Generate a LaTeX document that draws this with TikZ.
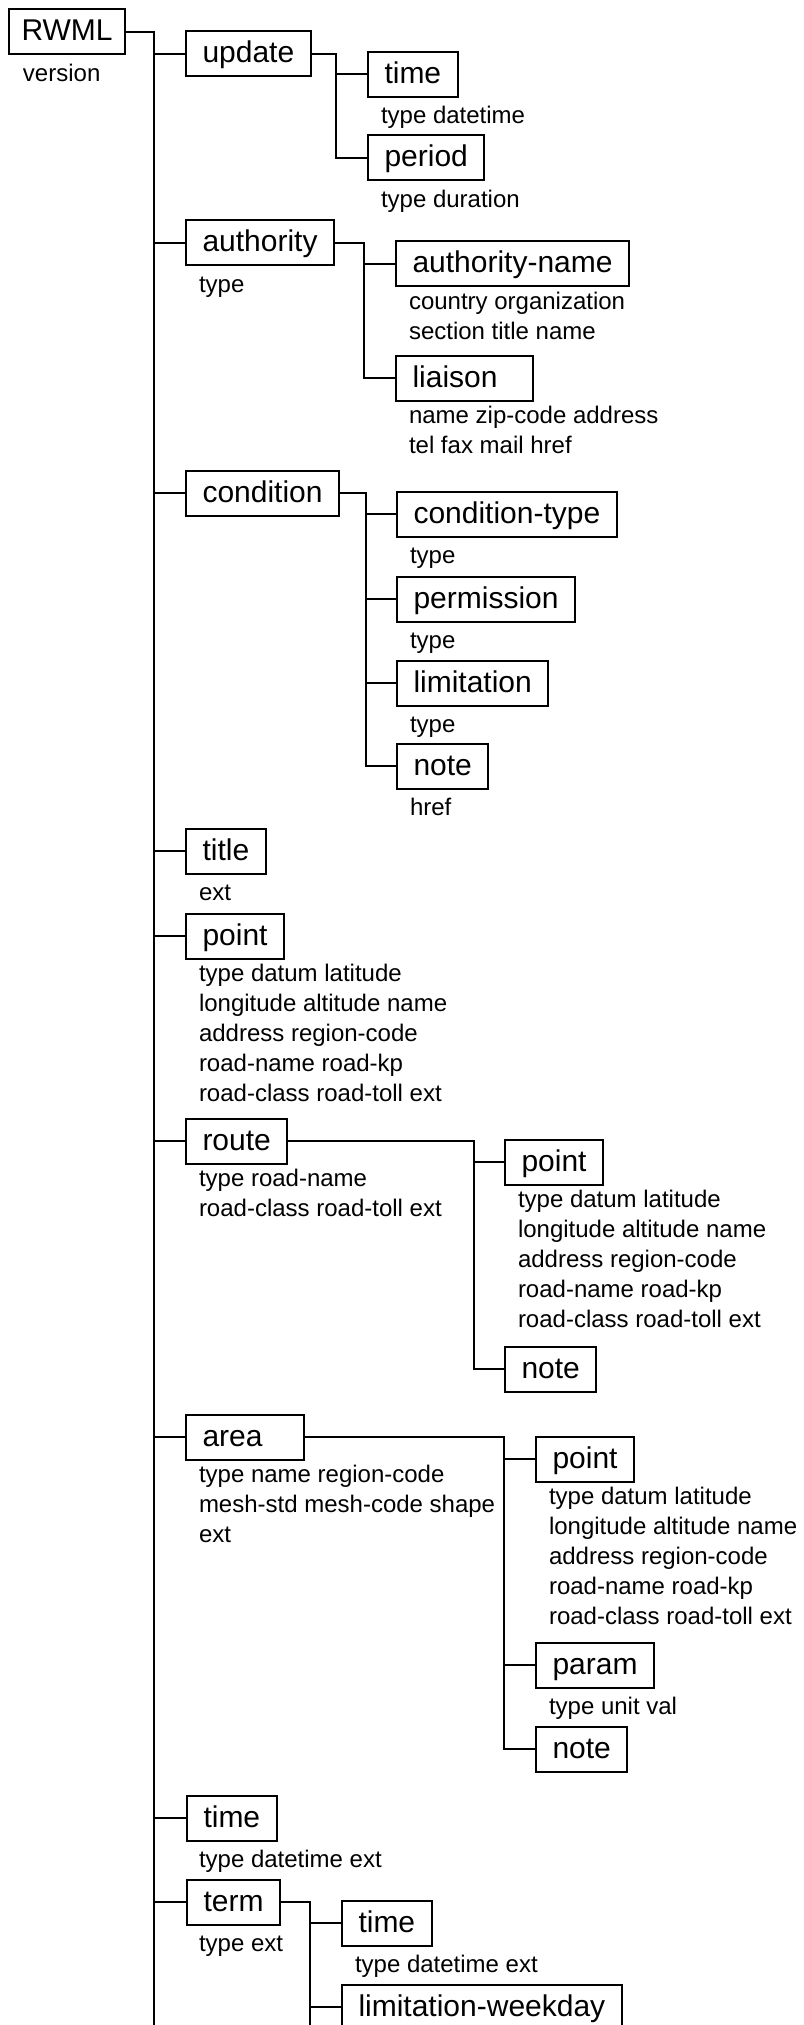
\documentclass[tikz,border=0pt]{standalone}
\usepackage{fontspec}
\setmainfont{Liberation Sans}
\usetikzlibrary{positioning, calc}

\begin{document}
\begin{tikzpicture}[
    x=1pt, y=-1pt,
    line width=2pt,
    elem/.style={draw, rectangle, anchor=west, minimum height=45pt, inner xsep=16.5pt, inner ysep=0pt, text height=23pt, text depth=5pt, font=\fontsize{30}{36}\selectfont},
    attr/.style={anchor=north west, align=left, inner sep=0pt, font=\fontsize{24}{30}\selectfont, execute at begin node=\strut}
]
    \useasboundingbox (0,0) rectangle (803,2025);
    \clip (0,0) rectangle (803,2025);
    \fill[white] (0,0) rectangle (803,2025);

    % --- ROOT ---
    \node[elem, inner xsep=12.5pt] (rwml) at (8,32) {RWML};
    \node[attr] (rwmlattr) at ([xshift=14pt,yshift=-4pt]rwml.south west) {version};
    \coordinate (trunkend) at (154,2040);
    \draw (rwml.east) -| (trunkend);

    % --- UPDATE ---
    \node[elem] (update) at (185,54) {update};
    \node[elem] (uptime) at (367,74.5) {time};
    \node[attr] (uptimeattr) at ([xshift=13pt,yshift=-4pt]uptime.south west) {type datetime};
    \node[elem] (period) at (367,158) {period};
    \node[attr] (periodattr) at ([xshift=13pt,yshift=-4pt]period.south west) {type duration};
    \draw (update.west) -- (update.west -| trunkend);
    \draw (update.east) -| ($(period.west)+(-31,0)$) -- (period.west);
    \draw (uptime.west) -- ++(-31,0);

    % --- AUTHORITY ---
    \node[elem] (authority) at (185,243) {authority};
    \node[attr] (authorityattr) at ([xshift=13pt,yshift=-4pt]authority.south west) {type};
    \node[elem] (authname) at (395,264) {authority-name};
    \node[attr] (authnameattr) at ([xshift=13pt,yshift=-4pt]authname.south west) {country organization\\section title name};
    \node[elem, text width=104pt, align=left] (liaison) at (395,378) {liaison};
    \node[attr] (liaisonattr) at ([xshift=13pt,yshift=-4pt]liaison.south west) {name zip-code address\\tel fax mail href};
    \draw (authority.west) -- (authority.west -| trunkend);
    \draw (authority.east) -| ($(liaison.west)+(-31,0)$) -- (liaison.west);
    \draw (authname.west) -- ++(-31,0);

    % --- CONDITION ---
    \node[elem] (condition) at (185,493) {condition};
    \node[elem] (condtype) at (396,514) {condition-type};
    \node[attr] (condtypeattr) at ([xshift=13pt,yshift=-4pt]condtype.south west) {type};
    \node[elem] (permission) at (396,599) {permission};
    \node[attr] (permissionattr) at ([xshift=13pt,yshift=-4pt]permission.south west) {type};
    \node[elem] (limitation) at (396,683) {limitation};
    \node[attr] (limitationattr) at ([xshift=13pt,yshift=-4pt]limitation.south west) {type};
    \node[elem] (condnote) at (396,766) {note};
    \node[attr] (condnoteattr) at ([xshift=13pt,yshift=-4pt]condnote.south west) {href};
    \draw (condition.west) -- (condition.west -| trunkend);
    \draw (condition.east) -| ($(condnote.west)+(-30,0)$) -- (condnote.west);
    \draw (condtype.west) -- ++(-30,0);
    \draw (permission.west) -- ++(-30,0);
    \draw (limitation.west) -- ++(-30,0);

    % --- TITLE, POINT ---
    \node[elem] (title) at (185,851) {title};
    \node[attr] (titleattr) at ([xshift=13pt,yshift=-4pt]title.south west) {ext};
    \node[elem] (point) at (185,936) {point};
    \node[attr] (pointattr) at ([xshift=13pt,yshift=-4pt]point.south west) {type datum latitude\\longitude altitude name\\address region-code\\road-name road-kp\\road-class road-toll ext};
    \draw (title.west) -- (title.west -| trunkend);
    \draw (point.west) -- (point.west -| trunkend);

    % --- ROUTE ---
    \node[elem] (route) at (185,1141) {route};
    \node[attr] (routeattr) at ([xshift=13pt,yshift=-4pt]route.south west) {type road-name\\road-class road-toll ext};
    \node[elem] (routepoint) at (504,1162) {point};
    \node[attr] (routepointattr) at ([xshift=13pt,yshift=-4pt]routepoint.south west) {type datum latitude\\longitude altitude name\\address region-code\\road-name road-kp\\road-class road-toll ext};
    \node[elem] (routenote) at (504,1369) {note};
    \draw (route.west) -- (route.west -| trunkend);
    \draw (route.east) -| ($(routenote.west)+(-30,0)$) -- (routenote.west);
    \draw (routepoint.west) -- ++(-30,0);

    % --- AREA ---
    \node[elem, text width=85pt, align=left] (area) at (185,1437) {area};
    \node[attr] (areaattr) at ([xshift=13pt,yshift=-4pt]area.south west) {type name region-code\\mesh-std mesh-code shape\\ext};
    \node[elem] (areapoint) at (535,1459) {point};
    \node[attr] (areapointattr) at ([xshift=13pt,yshift=-4pt]areapoint.south west) {type datum latitude\\longitude altitude name\\address region-code\\road-name road-kp\\road-class road-toll ext};
    \node[elem] (param) at (535,1665) {param};
    \node[attr] (paramattr) at ([xshift=13pt,yshift=-4pt]param.south west) {type unit val};
    \node[elem] (areanote) at (535,1749) {note};
    \draw (area.west) -- (area.west -| trunkend);
    \draw (area.east) -| ($(areanote.west)+(-31,0)$) -- (areanote.west);
    \draw (areapoint.west) -- ++(-31,0);
    \draw (param.west) -- ++(-31,0);

    % --- TIME, TERM ---
    \node[elem] (time) at (186,1818) {time};
    \node[attr] (timeattr) at ([xshift=12pt,yshift=-4pt]time.south west) {type datetime ext};
    \node[elem] (term) at (186,1902) {term};
    \node[attr] (termattr) at ([xshift=12pt,yshift=-4pt]term.south west) {type ext};
    \node[elem] (termtime) at (341,1923) {time};
    \node[attr] (termtimeattr) at ([xshift=13pt,yshift=-4pt]termtime.south west) {type datetime ext};
    \node[elem] (weekday) at (341,2007) {limitation-weekday};
    \coordinate (termbar) at ($(weekday.west)+(-31,0)$);
    \draw (time.west) -- (time.west -| trunkend);
    \draw (term.west) -- (term.west -| trunkend);
    \draw (term.east) -| (termbar |- trunkend);
    \draw (termtime.west) -- ++(-31,0);
    \draw (weekday.west) -- (termbar);

\end{tikzpicture}
\end{document}
